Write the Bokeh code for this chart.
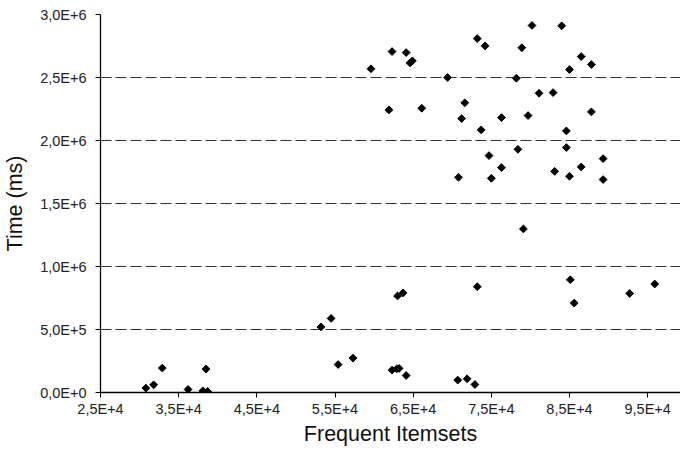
import math
from bokeh.plotting import figure
from bokeh.models import FixedTicker, CustomJSTickFormatter, Range1d
from bokeh.embed import file_html
from bokeh.resources import INLINE

# Frequent itemsets (x) and time in ms (y)
itemsets = [30800, 31800, 32900, 36200, 38100, 38700, 38500, 53200, 54500, 55400,
            57300, 62300, 62900, 63200, 63000, 63700, 64100, 70700, 71900, 72900,
            73200, 79100, 85100, 85600, 92700, 95900,
            59600, 62300, 61900, 64100, 64600, 64900, 73200, 74200, 80200, 84000,
            78900, 86500, 87800, 85000, 69400, 78200, 81100, 82900, 66100, 71600,
            71200, 76300, 79700, 87800, 73700, 84600, 74700, 78400, 84600, 89300,
            76300, 86500, 70800, 75000, 83100, 85000, 89300]
time_ms = [35000, 61000, 194000, 24000, 13500, 8000, 186000, 520000, 588000, 222000,
           273000, 178000, 188000, 191000, 766000, 790000, 135000, 98500, 108800, 63500,
           840000, 1298000, 895000, 710000, 786000, 861000,
           2569000, 2706000, 2243000, 2698000, 2616000, 2632000, 2809000, 2751000, 2913000, 2910000,
           2736000, 2666000, 2603000, 2563000, 2500000, 2494000, 2375000, 2380000, 2256000, 2299000,
           2174000, 2182000, 2198000, 2227000, 2084000, 2076000, 1880000, 1930000, 1944000, 1856000,
           1785000, 1790000, 1708000, 1700000, 1755000, 1716000, 1690000]

x_ticks = [25000, 35000, 45000, 55000, 65000, 75000, 85000, 95000]
y_ticks = [0, 500000, 1000000, 1500000, 2000000, 2500000, 3000000]

p = figure(width=680, height=449, output_backend="svg", toolbar_location=None,
           x_range=Range1d(25000, 99200), y_range=Range1d(0, 3000000),
           min_border_left=96, min_border_right=0, min_border_top=14, min_border_bottom=57)
p.outline_line_color = None
p.background_fill_color = "white"
p.border_fill_color = "white"

p.scatter(itemsets, time_ms, marker="square", size=5.5, angle=math.pi / 4, color="black")

fmt = CustomJSTickFormatter(code="""
return tick.toExponential(1).replace('.', ',').replace('e', 'E');
""")

for ax, ticks in ((p.xaxis[0], x_ticks), (p.yaxis[0], y_ticks)):
    ax.ticker = FixedTicker(ticks=ticks)
    ax.formatter = fmt
    ax.axis_line_color = "black"
    ax.axis_line_width = 1.3
    ax.major_tick_line_color = "black"
    ax.major_tick_out = 5
    ax.major_tick_in = 0
    ax.minor_tick_line_color = None
    ax.major_label_text_font = "Liberation Sans"
    ax.major_label_text_font_size = "14.5px"
    ax.major_label_text_color = "#222222"
    ax.axis_label_text_font = "Liberation Sans"
    ax.axis_label_text_font_size = "21.5px"
    ax.axis_label_text_font_style = "normal"
    ax.axis_label_text_color = "#111111"

p.xaxis.axis_label = "Frequent Itemsets"
p.yaxis.axis_label = "Time (ms)"
p.xaxis.major_label_standoff = 3
p.yaxis.major_label_standoff = 9
p.xaxis.axis_label_standoff = 2
p.yaxis.axis_label_standoff = 10

p.xgrid.grid_line_color = None
p.ygrid.grid_line_color = "#333333"
p.ygrid.grid_line_width = 1.2
p.ygrid.grid_line_dash = "11 4"

open("out.html", "w").write(file_html(p, INLINE))
